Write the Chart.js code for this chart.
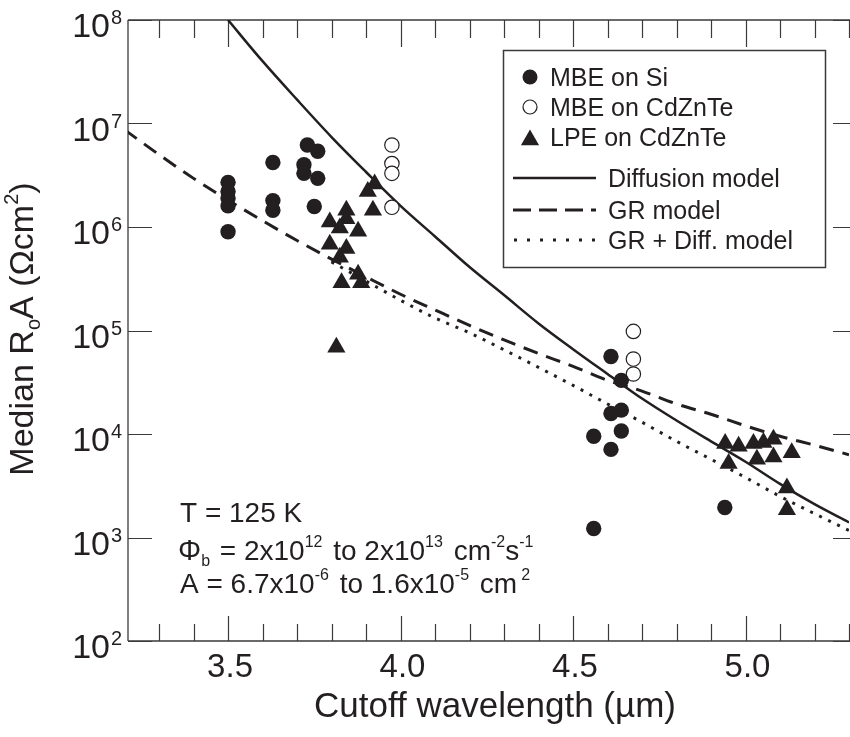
<!DOCTYPE html>
<html>
<head>
<meta charset="utf-8">
<script src="https://cdn.jsdelivr.net/npm/chart.js@4.4.0/dist/chart.umd.min.js"></script>
<style>
  html, body { margin: 0; padding: 0; background: #fff; }
  canvas { display: block; }
</style>
</head>
<body>
<canvas id="roaChart" width="850" height="737"></canvas>
<script>
// ---- data (x in µm, R0A in Ω·cm²) ----
const mbeSiWavelength = [3.5, 3.5, 3.5, 3.5, 3.5, 3.63, 3.63, 3.63, 3.73, 3.76, 3.72, 3.72, 3.76, 3.75,
                         4.61, 4.64, 4.61, 4.64, 4.56, 4.64, 4.61, 4.56, 4.94];
const mbeSiRoA = [2.7e6, 2.2e6, 1.9e6, 1.6e6, 9.0e5, 4.2e6, 1.8e6, 1.45e6, 6.2e6, 5.4e6, 4.0e6, 3.3e6, 2.95e6, 1.58e6,
                  5.6e4, 3.3e4, 1.58e4, 1.7e4, 9.5e3, 1.07e4, 7.1e3, 1.22e3, 1.95e3];

const mbeCztWavelength = [3.975, 3.975, 3.975, 3.975, 4.675, 4.675, 4.675];
const mbeCztRoA = [6.2e6, 4.1e6, 3.3e6, 1.55e6, 9.8e4, 5.3e4, 3.8e4];

const lpeWavelength = [3.925, 3.905, 3.92, 3.843, 3.843, 3.795, 3.824, 3.877, 3.795, 3.843, 3.824, 3.877, 3.829, 3.886, 3.814,
                       4.941, 4.98, 5.023, 5.052, 5.081, 4.951, 5.033, 5.081, 5.134, 5.12, 5.12];
const lpeRoA = [2.6e6, 2.2e6, 1.45e6, 1.45e6, 1.2e6, 1.12e6, 9.8e5, 9.1e5, 6.8e5, 6.2e5, 5.1e5, 3.5e5, 2.9e5, 2.9e5, 6.9e4,
                8.1e3, 7.6e3, 8.1e3, 8.3e3, 8.9e3, 5.2e3, 5.7e3, 6.0e3, 6.6e3, 3.0e3, 1.85e3];

const diffusionWavelength = [3.5, 3.6, 3.7, 3.8, 3.9, 4.0, 4.1, 4.2, 4.3, 4.4, 4.5, 4.6, 4.7, 4.8, 4.9, 5.0, 5.1, 5.2, 5.3];
const diffusionRoA = [1.0e8, 4.0e7, 1.7e7, 7.4e6, 3.4e6, 1.6e6, 8.1e5, 4.1e5, 2.2e5, 1.17e5,
                      6.6e4, 3.8e4, 2.2e4, 1.35e4, 8.5e3, 5.4e3, 3.3e3, 2.1e3, 1.4e3];

const grWavelength = [3.2, 3.3, 3.4, 3.5, 3.6, 3.7, 3.8, 3.9, 4.0, 4.1, 4.2, 4.3, 4.4, 4.5, 4.6, 4.7, 4.8, 4.9, 5.0, 5.1, 5.2, 5.3];
const grRoA = [8.7e6, 5.0e6, 2.95e6, 1.82e6, 1.15e6, 7.4e5, 4.9e5, 3.3e5, 2.24e5, 1.58e5, 1.12e5,
               8.1e4, 6.0e4, 4.5e4, 3.3e4, 2.6e4, 1.95e4, 1.55e4, 1.2e4, 9.5e3, 7.8e3, 6.3e3];

const grDiffWavelength = [3.8, 3.9, 4.0, 4.1, 4.2, 4.3, 4.4, 4.5, 4.6, 4.7, 4.8, 4.9, 5.0, 5.1, 5.2, 5.3];
const grDiffRoA = [4.6e5, 3.0e5, 1.96e5, 1.32e5, 9.5e4, 6.5e4, 4.4e4, 2.95e4, 1.95e4, 1.3e4,
                   8.5e3, 5.7e3, 3.8e3, 2.5e3, 1.7e3, 1.17e3];

const xTickValues = [3.5, 4.0, 4.5, 5.0];
const xTickLabels = ['3.5', '4.0', '4.5', '5.0'];
const yTickExponents = [2, 3, 4, 5, 6, 7, 8];

const legendLabels = ['MBE on Si', 'MBE on CdZnTe', 'LPE on CdZnTe', 'Diffusion model', 'GR model', 'GR + Diff. model'];

// ---- style ----
const INK = '#231f20';
const FONT = '"Liberation Sans", Arial, Helvetica, sans-serif';
const PLOT = { left: 128, right: 849, top: 20, bottom: 641 };

function pairs(xs, ys) {
    return xs.map((x, i) => ({ x: x, y: ys[i] }));
}

// draw a run of text pieces (for super/subscripts); returns total width
function drawRuns(ctx, x, y, parts, measureOnly) {
    let cx = x;
    for (const p of parts) {
        ctx.font = p.size + 'px ' + FONT;
        if (!measureOnly) ctx.fillText(p.text, cx, y + (p.dy || 0));
        cx += ctx.measureText(p.text).width + (p.gap || 0);
    }
    return cx - x;
}

function drawCircle(ctx, x, y, r, filled) {
    ctx.beginPath();
    ctx.arc(x, y, r, 0, Math.PI * 2);
    if (filled) { ctx.fillStyle = INK; ctx.fill(); }
    else { ctx.fillStyle = '#fff'; ctx.fill(); ctx.lineWidth = 1.2; ctx.strokeStyle = INK; ctx.stroke(); }
}

function drawTriangle(ctx, x, y, r) {
    ctx.beginPath();
    ctx.moveTo(x, y - r);
    ctx.lineTo(x + r * Math.sin(Math.PI / 3), y + r / 2);
    ctx.lineTo(x - r * Math.sin(Math.PI / 3), y + r / 2);
    ctx.closePath();
    ctx.fillStyle = INK;
    ctx.fill();
}

// pin the plot box to where the original figure has it
const pinArea = {
    id: 'pinArea',
    afterLayout(chart) {
        const xs = chart.scales.x;
        const ys = chart.scales.y;
        xs.left = PLOT.left; xs.right = PLOT.right; xs.width = PLOT.right - PLOT.left;
        ys.top = PLOT.top; ys.bottom = PLOT.bottom; ys.height = PLOT.bottom - PLOT.top;
        xs.configure();
        ys.configure();
        Object.assign(chart.chartArea, PLOT, { width: PLOT.right - PLOT.left, height: PLOT.bottom - PLOT.top });
    }
};

const figureDecor = {
    id: 'figureDecor',
    beforeDatasetsDraw(chart) {
        const ctx = chart.ctx;
        const a = chart.chartArea;
        const xs = chart.scales.x;
        const ys = chart.scales.y;
        ctx.save();
        // frame (left, top, bottom)
        ctx.strokeStyle = '#3a3a3a';
        ctx.lineWidth = 1.3;
        ctx.beginPath();
        ctx.moveTo(a.left, a.top); ctx.lineTo(a.right + 1, a.top);
        ctx.moveTo(a.left, a.top); ctx.lineTo(a.left, a.bottom);
        ctx.moveTo(a.left, a.bottom); ctx.lineTo(a.right + 1, a.bottom);
        ctx.stroke();

        // x ticks every 0.1, longer every 0.5, on bottom and top
        ctx.lineWidth = 1.2;
        ctx.beginPath();
        for (let k = 33; k <= 53; k++) {
            const px = Math.round(xs.getPixelForValue(k / 10)) + 0.5;
            const major = k % 5 === 0;
            ctx.moveTo(px, a.bottom); ctx.lineTo(px, a.bottom - (major ? 25 : 17));
            ctx.moveTo(px, a.top); ctx.lineTo(px, a.top + (major ? 27 : 18));
        }
        // y ticks at decades, left and right
        for (const e of yTickExponents) {
            const py = Math.round(ys.getPixelForValue(Math.pow(10, e))) + 0.5;
            ctx.moveTo(a.left, py); ctx.lineTo(a.left + 24, py);
            ctx.moveTo(a.right + 1, py); ctx.lineTo(a.right - 16, py);
        }
        ctx.stroke();

        // tick labels
        ctx.fillStyle = INK;
        ctx.textBaseline = 'alphabetic';
        ctx.textAlign = 'center';
        ctx.font = '33px ' + FONT;
        xTickValues.forEach((v, i) => {
            ctx.fillText(xTickLabels[i], xs.getPixelForValue(v) + 2, a.bottom + 36);
        });
        for (const e of yTickExponents) {
            const py = ys.getPixelForValue(Math.pow(10, e));
            ctx.textAlign = 'right';
            ctx.font = '34px ' + FONT;
            ctx.fillText('10', 110, py + 17);
            ctx.textAlign = 'left';
            ctx.font = '20px ' + FONT;
            ctx.fillText(String(e), 111, py + 4);
        }

        // axis titles
        ctx.textAlign = 'left';
        const xTitle = [{ text: 'Cutoff wavelength (µm)', size: 35 }];
        const wx = drawRuns(ctx, 0, 0, xTitle, true);
        drawRuns(ctx, 495 - wx / 2, 717, xTitle);

        const yTitle = [
            { text: 'Median R', size: 34 },
            { text: 'o', size: 20, dy: 7 },
            { text: 'A (Ωcm', size: 34 },
            { text: '2', size: 20, dy: -15 },
            { text: ')', size: 34 }
        ];
        ctx.save();
        ctx.translate(33, 329);
        ctx.rotate(-Math.PI / 2);
        const wy = drawRuns(ctx, 0, 0, yTitle, true);
        drawRuns(ctx, -wy / 2, 0, yTitle);
        ctx.restore();
        ctx.restore();
    },
    afterDatasetsDraw(chart) {
        const ctx = chart.ctx;
        ctx.save();
        ctx.fillStyle = INK;
        ctx.textAlign = 'left';
        ctx.textBaseline = 'alphabetic';

        // measurement conditions
        drawRuns(ctx, 180, 522, [{ text: 'T = 125 K', size: 28 }]);
        drawRuns(ctx, 178, 560, [
            { text: 'Φ', size: 29 },
            { text: 'b', size: 16, dy: 6, gap: 2 },
            { text: ' = 2x10', size: 28 },
            { text: '12', size: 16, dy: -13, gap: 3 },
            { text: ' to 2x10', size: 28 },
            { text: '13', size: 16, dy: -13, gap: 3 },
            { text: ' cm', size: 28 },
            { text: '-2', size: 16, dy: -13 },
            { text: 's', size: 28 },
            { text: '-1', size: 16, dy: -13 }
        ]);
        drawRuns(ctx, 180, 593, [
            { text: 'A = 6.7x10', size: 28 },
            { text: '-6', size: 16, dy: -13, gap: 3 },
            { text: ' to 1.6x10', size: 28 },
            { text: '-5', size: 16, dy: -13, gap: 3 },
            { text: ' cm', size: 28, gap: 4 },
            { text: '2', size: 16, dy: -13 }
        ]);

        // legend box
        ctx.fillStyle = '#fff';
        ctx.fillRect(503, 50, 322, 217);
        ctx.strokeStyle = '#3a3a3a';
        ctx.lineWidth = 1.5;
        ctx.strokeRect(503.5, 50.5, 322, 217);

        drawCircle(ctx, 530, 77, 7.5, true);
        drawCircle(ctx, 530, 107, 7, false);
        drawTriangle(ctx, 530, 140, 10.5);

        ctx.strokeStyle = INK;
        ctx.lineWidth = 2.5;
        ctx.beginPath(); ctx.moveTo(513, 178); ctx.lineTo(596, 178); ctx.stroke();
        ctx.lineWidth = 3;
        ctx.setLineDash([18, 8]);
        ctx.beginPath(); ctx.moveTo(513, 210); ctx.lineTo(596, 210); ctx.stroke();
        ctx.setLineDash([3, 10]);
        ctx.beginPath(); ctx.moveTo(514, 240); ctx.lineTo(598, 240); ctx.stroke();
        ctx.setLineDash([]);

        ctx.fillStyle = INK;
        ctx.font = '25px ' + FONT;
        ctx.fillText(legendLabels[0], 550, 86);
        ctx.fillText(legendLabels[1], 550, 116);
        ctx.fillText(legendLabels[2], 550, 146);
        ctx.fillText(legendLabels[3], 608, 187);
        ctx.fillText(legendLabels[4], 608, 219);
        ctx.fillText(legendLabels[5], 608, 249);
        ctx.restore();
    }
};

const lineDefaults = {
    showLine: true,
    pointRadius: 0,
    borderColor: INK,
    backgroundColor: INK,
    cubicInterpolationMode: 'monotone',
    order: 2
};

new Chart(document.getElementById('roaChart').getContext('2d'), {
    type: 'scatter',
    data: {
        datasets: [
            {
                label: legendLabels[0],
                data: pairs(mbeSiWavelength, mbeSiRoA),
                pointStyle: 'circle',
                pointRadius: 7.7,
                backgroundColor: INK,
                borderColor: INK,
                borderWidth: 0,
                order: 0
            },
            {
                label: legendLabels[1],
                data: pairs(mbeCztWavelength, mbeCztRoA),
                pointStyle: 'circle',
                pointRadius: 7.2,
                backgroundColor: '#fff',
                borderColor: INK,
                borderWidth: 1.2,
                order: 0
            },
            {
                label: legendLabels[2],
                data: pairs(lpeWavelength, lpeRoA),
                pointStyle: 'triangle',
                pointRadius: 10.5,
                backgroundColor: INK,
                borderColor: INK,
                borderWidth: 0,
                order: 0
            },
            Object.assign({}, lineDefaults, {
                label: legendLabels[3],
                data: pairs(diffusionWavelength, diffusionRoA),
                borderWidth: 2.5
            }),
            Object.assign({}, lineDefaults, {
                label: legendLabels[4],
                data: pairs(grWavelength, grRoA),
                borderWidth: 3,
                borderDash: [15, 9]
            }),
            Object.assign({}, lineDefaults, {
                label: legendLabels[5],
                data: pairs(grDiffWavelength, grDiffRoA),
                borderWidth: 3,
                borderDash: [3, 7]
            })
        ]
    },
    options: {
        responsive: false,
        animation: false,
        events: [],
        layout: { padding: { top: 20, right: 1, left: 0, bottom: 0 } },
        plugins: {
            legend: { display: false },
            tooltip: { enabled: false }
        },
        scales: {
            x: {
                type: 'linear',
                min: 3.21,
                max: 5.30,
                ticks: { display: false },
                grid: { display: false },
                border: { display: false },
                afterFit: s => { s.height = 96; }
            },
            y: {
                type: 'logarithmic',
                min: 1e2,
                max: 1e8,
                ticks: { display: false },
                grid: { display: false },
                border: { display: false },
                afterFit: s => { s.width = 128; }
            }
        }
    },
    plugins: [pinArea, figureDecor]
});
</script>
</body>
</html>
